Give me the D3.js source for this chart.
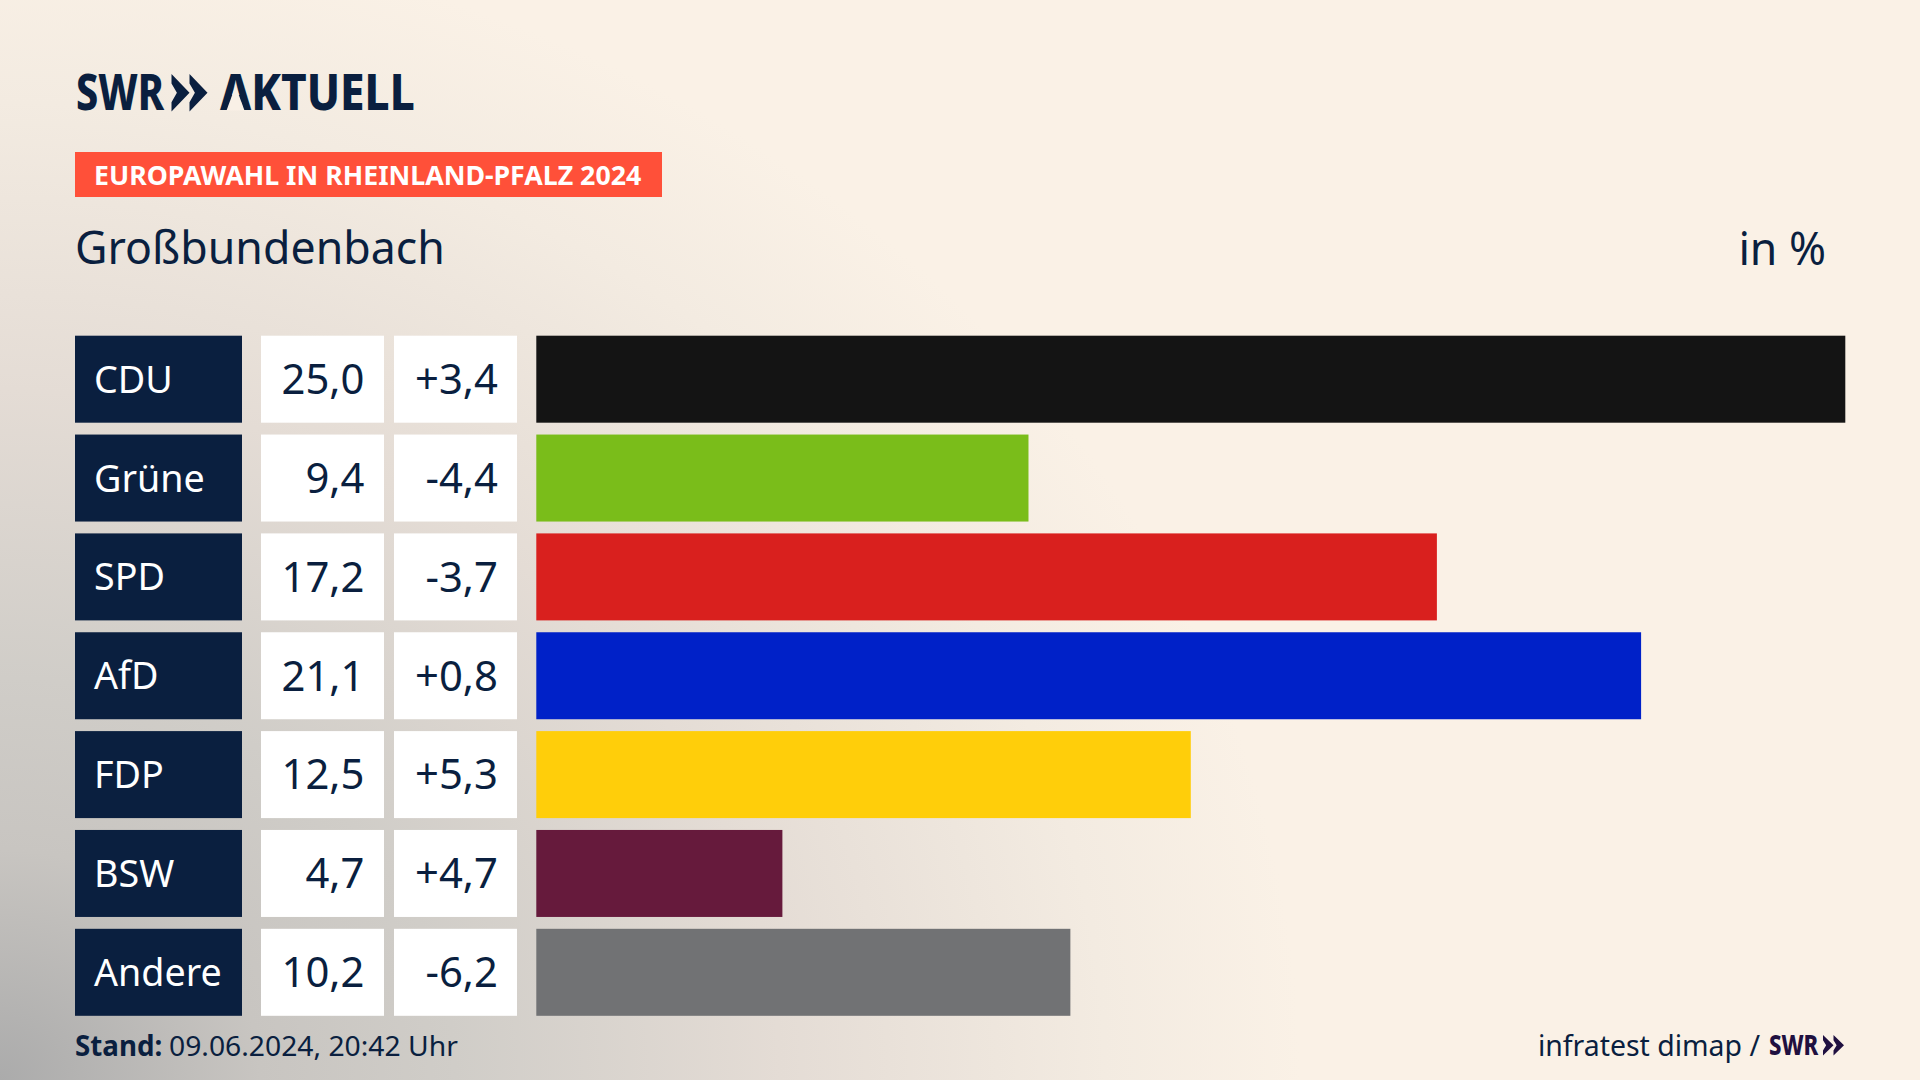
<!DOCTYPE html>
<html lang="de">
<head>
<meta charset="utf-8">
<title>Europawahl in Rheinland-Pfalz 2024 - Großbundenbach</title>
<script src="https://cdn.jsdelivr.net/npm/d3@7"></script>
<style>
    html, body { margin: 0; padding: 0; background: #FAF1E6; overflow: hidden; }
    svg { display: block; font-family: "Noto Sans", sans-serif; }
</style>
</head>
<body>
<svg id="chart" width="1920" height="1080"></svg>
<script>
// Chart data
const parties = ['CDU', 'Grüne', 'SPD', 'AfD', 'FDP', 'BSW', 'Andere'];
const shares = [25.0, 9.4, 17.2, 21.1, 12.5, 4.7, 10.2];
const changes = [3.4, -4.4, -3.7, 0.8, 5.3, 4.7, -6.2];
const barColors = ['#141414', '#7ABD1A', '#D9201E', '#0021C8', '#FFCE0A', '#661A3C', '#717274'];

const NAVY = '#0A1F3F';
const width = 1920;
const height = 1080;

const svg = d3.select('#chart');

// German number format: comma as decimal mark, plain hyphen for minus
const de = d3.formatLocale({ decimal: ',', thousands: '.', grouping: [3], currency: ['', '€'], minus: '-' });
const fmtShare = de.format('.1f');
const fmtChange = de.format('+.1f');

// Background: cream with a grey glow out of the lower left corner
const defs = svg.append('defs');
const glow = defs.append('radialGradient')
    .attr('id', 'glow')
    .attr('gradientUnits', 'userSpaceOnUse')
    .attr('cx', 0).attr('cy', 0).attr('r', 1)
    .attr('gradientTransform', 'translate(0,1080) scale(1300,1150)');
[[0, '#ABABAB'], [0.2, '#C8C5C1'], [0.35, '#D0CDC8'], [0.6, '#E4DCD5'], [0.85, '#F3EBE1'], [1, '#FAF1E6']].forEach(s => {
    glow.append('stop').attr('offset', s[0]).attr('stop-color', s[1]);
});

svg.append('rect').attr('width', width).attr('height', height).attr('fill', 'url(#glow)');

// Text helper, the fonts are wider than the original so they get squeezed
function label(x, y, text, size, opts = {}) {
    return svg.append('text')
        .attr('transform', `translate(${x},${y}) scale(${opts.sx || 1},1)`)
        .attr('text-anchor', opts.anchor || 'start')
        .attr('font-size', size)
        .attr('font-weight', opts.weight || 400)
        .attr('fill', opts.fill || NAVY)
        .text(text);
}

// Double chevron of the SWR logo
function chevrons(x, y, w, h, fill) {
    const one = x0 => [
        [x0, y], [x0 + w, y + h / 2], [x0, y + h],
        [x0, y + h * 0.75], [x0 + w * 0.3, y + h / 2], [x0, y + h * 0.25]
    ];
    [x, x + w].forEach(x0 => {
        svg.append('polygon')
            .attr('points', one(x0).join(' '))
            .attr('fill', fill);
    });
}

// Logo
label(76, 110, 'SWR', 50, { weight: 800, sx: 0.79 });
chevrons(171.5, 74, 18, 37.5, NAVY);
label(220, 110, 'AKTUELL', 50, { weight: 800, sx: 0.882 });
// the logo's A has no crossbar
svg.append('polygon').attr('points', '235.5,86 226.5,110.5 244.5,110.5').attr('fill', '#F9F0E6');

// Header
svg.append('rect').attr('x', 75).attr('y', 152).attr('width', 587).attr('height', 45).attr('fill', '#FF5039');
label(94, 184.5, 'EUROPAWAHL IN RHEINLAND-PFALZ 2024', 27, { weight: 700, fill: '#fff', sx: 0.99 });
label(75, 264, 'Großbundenbach', 45, { sx: 0.993 });
label(1826, 265, 'in %', 45, { anchor: 'end', sx: 0.99 });

// Scales
const y = d3.scaleBand().domain(parties).range([335.7, 1015.8]).paddingInner(0.12);
const x = d3.scaleLinear().domain([0, 25]).range([536.3, 1845.3]);

// One row per party
const rows = parties.map((party, i) => ({ party, share: shares[i], change: changes[i], color: barColors[i] }));

svg.append('g').selectAll('rect').data(rows).join('rect')
    .attr('x', 75).attr('y', d => y(d.party))
    .attr('width', 167).attr('height', y.bandwidth())
    .attr('fill', NAVY);

svg.append('g').selectAll('rect').data(rows).join('rect')
    .attr('x', 261).attr('y', d => y(d.party))
    .attr('width', 123).attr('height', y.bandwidth())
    .attr('fill', '#fff');

svg.append('g').selectAll('rect').data(rows).join('rect')
    .attr('x', 394).attr('y', d => y(d.party))
    .attr('width', 123).attr('height', y.bandwidth())
    .attr('fill', '#fff');

svg.append('g').selectAll('rect').data(rows).join('rect')
    .attr('x', x(0)).attr('y', d => y(d.party))
    .attr('width', d => x(d.share) - x(0)).attr('height', y.bandwidth())
    .attr('fill', d => d.color);

rows.forEach(d => {
    const base = y(d.party) + 57;
    label(94, base, d.party, 39, { fill: '#fff', sx: 0.966 });
    label(364.5, base + 1.3, fmtShare(d.share), 41, { anchor: 'end', sx: 1.02 });
    label(498, base + 1.3, fmtChange(d.change), 41, { anchor: 'end', sx: 1.02 });
});

// Footer
label(75, 1056, 'Stand:', 28, { weight: 700, sx: 0.99 });
label(169, 1056, '09.06.2024, 20:42 Uhr', 28, { sx: 1.01 });
label(1760, 1056, 'infratest dimap /', 29, { anchor: 'end', sx: 0.98 });
label(1769, 1055, 'SWR', 28, { weight: 800, fill: '#1F1040', sx: 0.79 });
chevrons(1823, 1035, 10.5, 20.5, '#1F1040');
</script>
</body>
</html>
